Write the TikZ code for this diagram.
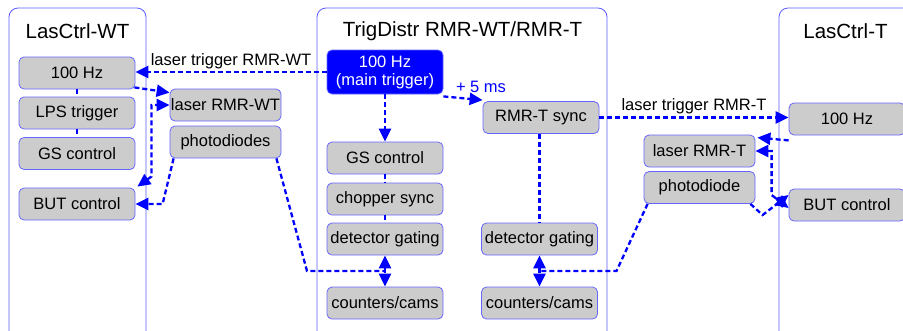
\documentclass[tikz,border=0pt]{standalone}
\usepackage{fontspec}
\setmainfont{Liberation Sans}
\usetikzlibrary{arrows.meta,calc}
\definecolor{boxg}{HTML}{CCCCCC}
\definecolor{nodeb}{HTML}{6666FF}
\definecolor{contb}{HTML}{5A5AFF}
\definecolor{cb}{HTML}{0000FF}
\newcommand{\nfs}{\fontsize{16.5}{19}\selectfont}
\newcommand{\tfs}{\fontsize{20.5}{24}\selectfont}
\newcommand{\lfs}{\fontsize{16.5}{19}\selectfont}
\tikzset{
 box/.style={draw=nodeb, fill=boxg, rounded corners=5pt, minimum height=32pt, inner sep=0pt, font=\nfs, line width=0.8pt},
 wbox/.style={box, minimum width=116pt},
 nbox/.style={box, minimum width=111pt},
 cont/.style={draw=contb, rounded corners=9pt, line width=0.8pt},
 conn/.style={draw=cb, line width=2.3pt, dash pattern=on 5pt off 3pt},
 arr/.style={conn, -{Triangle[length=13pt,width=12pt]}},
 darr/.style={conn, {Triangle[length=13pt,width=12pt]}-{Triangle[length=13pt,width=12pt]}},
 lbl/.style={font=\lfs, inner sep=1pt},
 ttl/.style={font=\tfs, inner sep=0pt}
}
\begin{document}
\begin{tikzpicture}[x=1pt,y=-1pt]
\clip (0,0) rectangle (903,330);
% containers
\draw[cont] (9,8) rectangle (146,350);
\draw[cont] (317,8) rectangle (607,350);
\draw[cont] (779,8) rectangle (930,350);
\node[ttl] (tl) at (77.5,31) {LasCtrl-WT};
\node[ttl] (tm) at (462.5,31) {TrigDistr RMR-WT/RMR-T};
\node[ttl] (tr) at (845.5,31) {LasCtrl-T};
% left
\node[wbox] (hzl) at (77,73) {100 Hz};
\node[wbox] (lps) at (77,113) {LPS trigger};
\node[wbox] (gsl) at (77,153.5) {GS control};
\node[wbox] (butl) at (77,204) {BUT control};
\node[nbox] (lasWT) at (225.5,105) {laser RMR-WT};
\node[nbox] (pdl) at (225.5,142) {photodiodes};
% middle
\node[draw=nodeb, fill=cb, rounded corners=5pt, minimum width=116pt, minimum height=44pt, inner sep=0pt, line width=0.8pt, text=white, font=\nfs, align=center] (main) at (385,72) {100 Hz\\[-1pt](main trigger)};
\node[wbox] (sync) at (541,117.5) {RMR-T sync};
\node[wbox] (gsm) at (385,158) {GS control};
\node[wbox] (chop) at (385,199) {chopper sync};
\node[wbox] (detl) at (385,239) {detector gating};
\node[wbox] (cntl) at (385,303) {counters/cams};
\node[wbox] (detr) at (539.5,239) {detector gating};
\node[wbox] (cntr) at (539.5,303) {counters/cams};
% right
\node[wbox] (hzr) at (847,119) {100 Hz};
\node[nbox] (lasT) at (699.5,151) {laser RMR-T};
\node[nbox] (pdr) at (699.5,187.5) {photodiode};
\node[wbox] (butr) at (847,205) {BUT control};
\coordinate (jl) at (385,271);
\coordinate (jr) at (539.5,271);
% connectors left
\draw[arr] (main.west) -- (main.west -| hzl.east);
\node[lbl] (l1) at (231,61) {laser trigger RMR-WT};
\draw[arr] ([shift={(-1,-2)}]hzl.south east) -- ([shift={(0,4)}]lasWT.north west);
\draw[conn] (hzl.south) -- (lps.north);
\draw[conn] (lps.south) -- (gsl.north);
\draw[darr] ([shift={(2,-1)}]butl.north east) -- ([shift={(16,-11)}]butl.north east) |- (lasWT.west);
\draw[arr] ([xshift=4]pdl.south west) -- ([xshift=-7]pdl.south west |- butl.east) -- (butl.east);
\draw[conn] ([xshift=-5]pdl.south east) -- ([xshift=-78]jl) -- (jl);
% middle connectors
\draw[arr] (main.south) -- (gsm.north);
\draw[arr] ([yshift=-2]main.south east) -- ([yshift=1]sync.north west);
\node[lbl, text=cb] (l2) at (481,87) {+ 5 ms};
\draw[conn] (gsm.south) -- (chop.north);
\draw[conn] (chop.south) -- (detl.north);
\draw[conn] (sync.south -| detr.north) -- (detr.north);
\draw[darr] (detl.south) -- (cntl.north);
\draw[darr] (detr.south) -- (cntr.north);
% right connectors
\draw[arr] (sync.east) -- (sync.east -| hzr.west);
\node[lbl] (l3) at (694,106) {laser trigger RMR-T};
\draw[arr] ([yshift=-5]hzr.south west) -- ([shift={(2,3)}]lasT.north east);
\draw[darr] (lasT.east) -| ([shift={(-17,-10)}]butr.west) -- ([yshift=-3]butr.west);
\draw[arr] ([xshift=-5]pdr.south east) -- ([shift={(-26,10)}]butr.west) -- ([yshift=10]butr.west);
\draw[conn] ([xshift=4]pdr.south west) -- ([xshift=77]jr) -- (jr);
\end{tikzpicture}
\end{document}
